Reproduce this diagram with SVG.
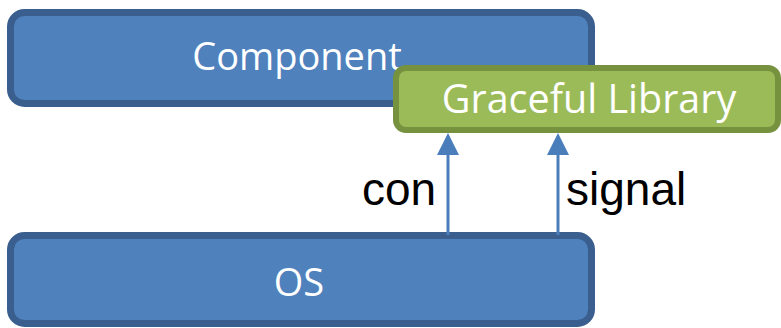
<svg xmlns="http://www.w3.org/2000/svg" width="781" height="328" viewBox="0 0 781 328">
  <style>
    .blue { fill: #4f81bd; stroke: #3a5f8e; stroke-width: 7; }
    .green { fill: #9bbb59; stroke: #77923f; stroke-width: 6; }
    .label { fill: #ffffff; font-family: "Open Sans", "Noto Sans", sans-serif; font-size: 38px; text-anchor: middle; }
    .edge-label { fill: #000000; font-family: "Liberation Sans", Arial, sans-serif; font-size: 46px; }
    .edge { stroke: #4a7ebb; stroke-width: 3; fill: none; }
    .head { fill: #4a7ebb; }
  </style>
  <rect width="781" height="328" fill="#ffffff"/>

  <g id="component">
    <rect class="blue" x="10.5" y="12.5" width="581" height="91" rx="14"/>
    <text class="label" x="297" y="70">Component</text>
  </g>

  <g id="os">
    <rect class="blue" x="10.5" y="235.5" width="581" height="88" rx="14"/>
    <text class="label" x="299" y="296">OS</text>
  </g>

  <g id="graceful-library">
    <rect class="green" x="396" y="68" width="382" height="62" rx="10"/>
    <text class="label" x="589" y="113" style="font-size:39.5px">Graceful Library</text>
  </g>

  <g id="connectors">
    <line class="edge" x1="448" y1="235" x2="448" y2="152"/>
    <polygon class="head" points="448,133 437,155 459,155"/>
    <text class="edge-label" x="362" y="205">con</text>
    <line class="edge" x1="558" y1="235" x2="558" y2="152"/>
    <polygon class="head" points="558,133 547,155 569,155"/>
    <text class="edge-label" x="566" y="205">signal</text>
  </g>
</svg>
